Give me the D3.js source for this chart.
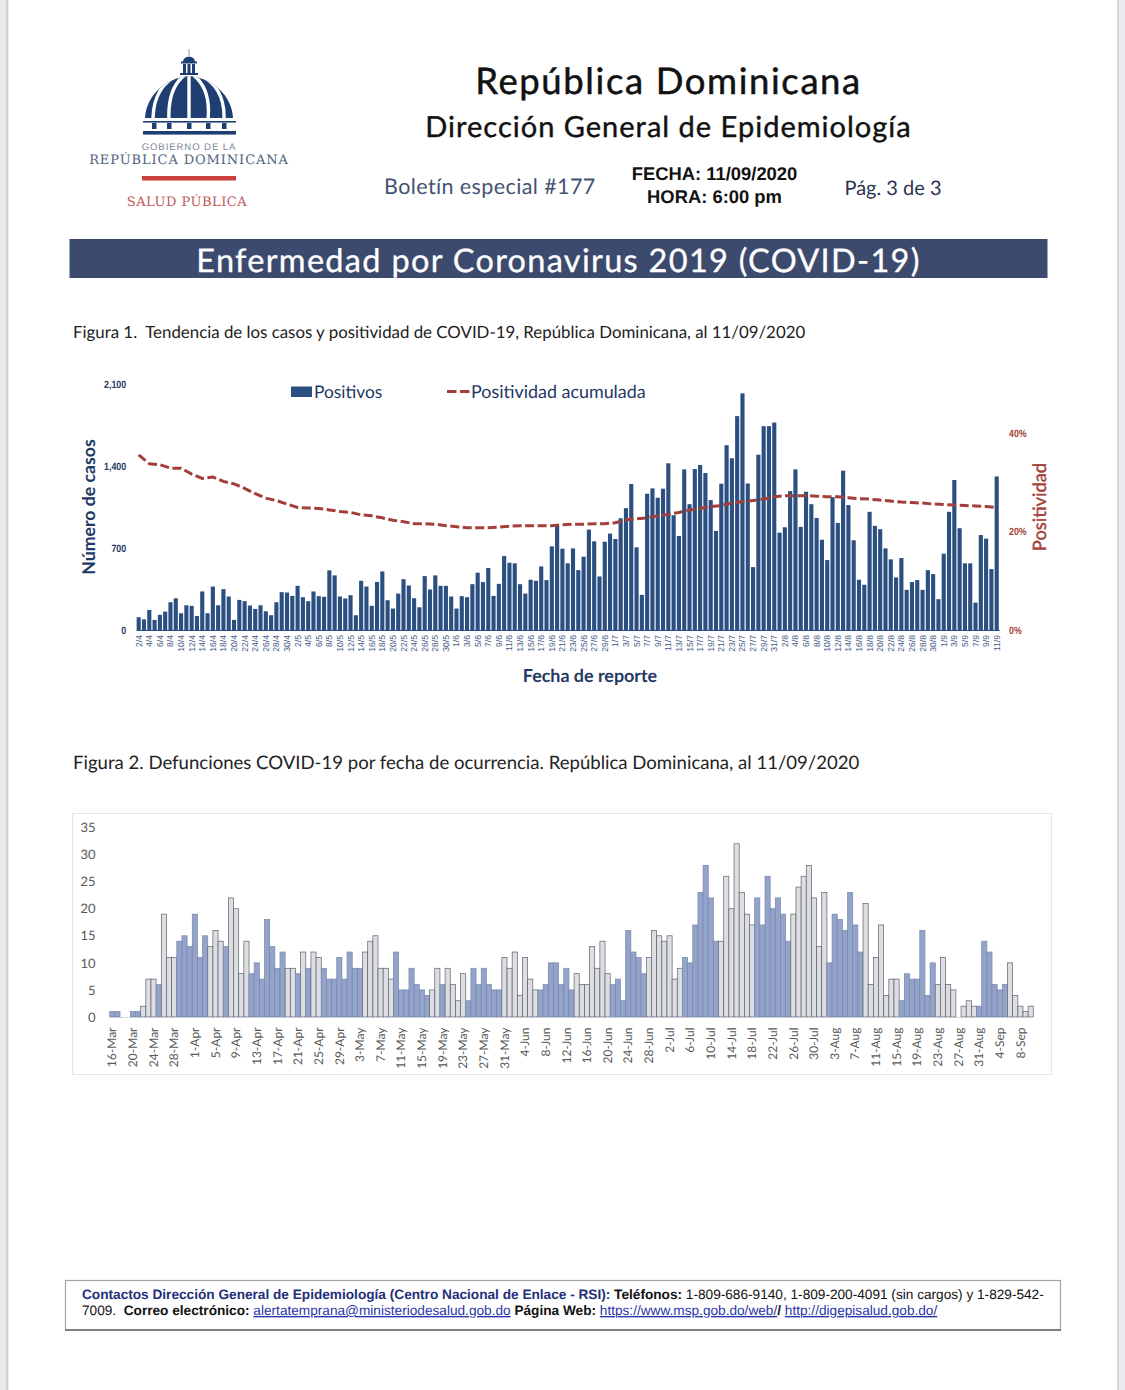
<!DOCTYPE html>
<html lang="es">
<head>
<meta charset="utf-8">
<script src="https://cdn.jsdelivr.net/npm/d3@7"></script>
<style>
html,body{margin:0;padding:0;background:#fff;}
svg{display:block;}
text{text-rendering:geometricPrecision;}
</style>
</head>
<body>
<svg id="page" width="1125" height="1390" viewBox="0 0 1125 1390"></svg>
<script>
// ---------- Figura 1: one value per day, 2/4 to 11/9 ----------
const positivosAbril = [109,91,171,86,129,157,237,271,143,211,206,120,329,143,371,211,349,286,86,257,246,209,180,211,160,126,237,323,320];
const positivosMayo = [291,377,280,246,329,289,283,509,466,286,269,297,126,420,371,206,411,500,254,183,311,434,380,271,194,460,346,466,377,377,286];
const positivosJunio = [183,289,280,391,489,409,529,291,394,631,574,569,391,311,429,420,543,426,714,900,694,569,697,511,626,857,757,457,754,823];
const positivosJulio = [777,954,1040,1246,706,300,1163,1209,1129,1206,1423,980,803,1371,1074,1374,1409,1340,1109,846,1249,1577,1466,1826,2020,1251,537,1497,1740,1740,1771];
const positivosAgosto = [831,877,1186,1371,880,1180,1074,957,771,597,1134,914,1360,1066,766,429,386,1009,889,860,697,603,449,614,343,409,426,343,511,477,263];
const positivosSeptiembre = [651,1009,1280,869,569,569,234,811,780,520,1311];
// accumulated positivity (%), read at every labelled date (every second day)
const positividadAcumulada = [35.6,33.8,33.6,32.9,32.9,31.7,30.8,31.1,30.2,29.7,28.8,27.7,26.8,26.3,25.6,
  24.9,24.8,24.7,24.4,24.1,23.9,23.4,23.2,22.8,22.3,22.0,21.6,21.6,21.5,21.2,
  21.0,20.8,20.8,20.8,20.9,21.1,21.2,21.2,21.2,21.2,21.4,21.5,21.5,21.6,21.6,
  21.8,22.4,22.6,22.8,23.2,23.5,23.9,24.4,24.7,25.1,25.3,25.8,26.1,26.3,26.6,27.1,
  27.3,27.3,27.3,27.2,27.1,27.1,26.9,26.7,26.6,26.4,26.2,26.0,25.9,25.8,25.6,
  25.5,25.4,25.3,25.2,25.1,24.9];
const etiquetasCasos = ["2/4","4/4","6/4","8/4","10/4","12/4","14/4","16/4","18/4","20/4","22/4","24/4","26/4","28/4","30/4",
  "2/5","4/5","6/5","8/5","10/5","12/5","14/5","16/5","18/5","20/5","22/5","24/5","26/5","28/5","30/5",
  "1/6","3/6","5/6","7/6","9/6","11/6","13/6","15/6","17/6","19/6","21/6","23/6","25/6","27/6","29/6",
  "1/7","3/7","5/7","7/7","9/7","11/7","13/7","15/7","17/7","19/7","21/7","23/7","25/7","27/7","29/7","31/7",
  "2/8","4/8","6/8","8/8","10/8","12/8","14/8","16/8","18/8","20/8","22/8","24/8","26/8","28/8","30/8",
  "1/9","3/9","5/9","7/9","9/9","11/9"];
const ticksCasos = [0,700,1400,2100];
const ticksPositividad = [0,20,40];

// ---------- Figura 2: one value per day, 16-Mar to 10-Sep ----------
const defuncionesMarzo = [1,1,0,0,1,1,2,7,7,6,19,11,11,14,15,13];
const defuncionesAbril = [19,11,15,13,16,14,13,22,20,8,14,8,10,7,18,13,9,12,9,9,8,12,9,12,11,9,7,7,11,7];
const defuncionesMayo = [12,9,9,12,14,15,9,9,7,12,5,5,9,6,5,4,5,9,6,9,6,3,8,3,9,6,9,6,5,5,11];
const defuncionesJunio = [9,12,4,11,7,5,5,6,10,10,6,9,5,8,6,6,13,9,14,8,6,7,3,16,12,11,8,11,16,15];
const defuncionesJulio = [14,15,7,9,11,10,17,23,28,22,14,14,26,20,32,23,19,17,22,17,26,20,22,19,14,19,24,26,28,22,13];
const defuncionesAgosto = [23,10,19,18,16,23,17,12,21,6,11,17,4,7,7,3,8,7,7,16,4,10,6,11,6,5,0,2,3,2,2];
const defuncionesSeptiembre = [14,12,6,5,6,10,4,2,1,2];
// group of each bar: "a" shaded, "b" pale
const grupoMarzo = "a a a a a a b b b a b b b a a a".split(" ");
const grupoAbril = "a a a b b b a b b b b a a a a a a a b b a b a b b a a a a a".split(" ");
const grupoMayo = "a a a b b b b b b a a a a a a a b b a b b b b a a a a a a a b".split(" ");
const grupoJunio = "b b b b b b a a a a a a a b b b b b b b a a a a a a a b b b".split(" ");
const grupoJulio = "b b b b a a a a a a a b b b b b b b a a a a a a a b b b b b b".split(" ");
const grupoAgosto = "b a a a a a a a b b b b b b b a a a a a a a b b b b b b b b a".split(" ");
const grupoSeptiembre = "a a a a a b b b b b".split(" ");
const etiquetasDefunciones = ["16-Mar","20-Mar","24-Mar","28-Mar","1-Apr","5-Apr","9-Apr","13-Apr","17-Apr","21-Apr","25-Apr","29-Apr",
  "3-May","7-May","11-May","15-May","19-May","23-May","27-May","31-May","4-Jun","8-Jun","12-Jun","16-Jun","20-Jun","24-Jun","28-Jun",
  "2-Jul","6-Jul","10-Jul","14-Jul","18-Jul","22-Jul","26-Jul","30-Jul","3-Aug","7-Aug","11-Aug","15-Aug","19-Aug","23-Aug","27-Aug","31-Aug",
  "4-Sep","8-Sep"];
const ticksDefunciones = [0,5,10,15,20,25,30,35];

// ---------- assembled series ----------
const positivos = [].concat(positivosAbril,positivosMayo,positivosJunio,positivosJulio,positivosAgosto,positivosSeptiembre);
const defunciones = [].concat(defuncionesMarzo,defuncionesAbril,defuncionesMayo,defuncionesJunio,defuncionesJulio,defuncionesAgosto,defuncionesSeptiembre);
const grupos = [].concat(grupoMarzo,grupoAbril,grupoMayo,grupoJunio,grupoJulio,grupoAgosto,grupoSeptiembre);

const HUMAN = "Lato, 'Open Sans', sans-serif";
const ARIAL = "'Liberation Sans', Arial, sans-serif";
const NAVY = "#1f3864", BAR = "#2b4f80", RED = "#a33f3a";

const svg = d3.select("#page");
svg.append("rect").attr("width",1125).attr("height",1390).attr("fill","#fff");

// page edges of the scanned sheet
[[0,6,"#e9e9ee"],[6,2,"#d2d2d6"],[8,1,"#f0f0f0"],[1119,6,"#e9e9ee"],[1117,2,"#d6d6da"]].forEach(r=>
  svg.append("rect").attr("x",r[0]).attr("y",0).attr("width",r[1]).attr("height",1390).attr("fill",r[2]));

function label(txt,x,y,size,opt={}){
  const t = svg.append("text").attr("x",x).attr("y",y).text(txt)
    .attr("font-family",opt.family||HUMAN).attr("font-size",size)
    .attr("font-weight",opt.weight||400).attr("fill",opt.fill||"#111")
    .attr("text-anchor",opt.anchor||"start")
    .attr("letter-spacing",opt.spacing||null)
    .attr("transform",opt.rotate?`rotate(${opt.rotate} ${x} ${y})`:null);
  if(opt.embolden) t.attr("stroke",opt.fill||"#111").attr("stroke-width",opt.embolden);
  return t;
}

// ---------- logo ----------
const logo = svg.append("g");
const LOGO = "#1f3f73";
const defs = svg.append("defs");
defs.append("clipPath").attr("id","dome").append("path").attr("d","M145,118 C146,96 165,78 189,76 C213,78 232,96 233,118 Z");
const dome = logo.append("g").attr("clip-path","url(#dome)");
dome.append("rect").attr("x",140).attr("y",70).attr("width",100).attr("height",50).attr("fill",LOGO);
["M189,70 L189,120","M186,74 C172,84 168,100 169,120","M192,74 C206,84 210,100 208,120",
 "M182,74 C162,80 153,98 153,120","M196,74 C216,80 225,98 224,120"].forEach(d=>
  dome.append("path").attr("d",d).attr("fill","none").attr("stroke","#fff").attr("stroke-width",3.4));
logo.append("path").attr("d","M183,62 C183,55 195,55 195,62 Z").attr("fill",LOGO);
logo.append("rect").attr("x",188.5).attr("y",49).attr("width",1).attr("height",7).attr("fill","#8da0bd");
logo.append("rect").attr("x",181).attr("y",61.5).attr("width",16).attr("height",2).attr("fill",LOGO);
[183,187.5,192].forEach(x=>logo.append("rect").attr("x",x).attr("y",64).attr("width",3).attr("height",9).attr("fill",LOGO));
logo.append("rect").attr("x",180).attr("y",73).attr("width",18).attr("height",2).attr("fill",LOGO);
logo.append("rect").attr("x",143).attr("y",121).attr("width",93).attr("height",1.6).attr("fill",LOGO);
[154,169,189,208,224].forEach(x=>logo.append("rect").attr("x",x-2).attr("y",123).attr("width",4.5).attr("height",6).attr("fill",LOGO));
logo.append("rect").attr("x",143).attr("y",131).attr("width",93).attr("height",3.6).attr("fill",LOGO);
label("GOBIERNO DE LA",189,150,9.6,{family:ARIAL,anchor:"middle",fill:"#7c8798",spacing:"0.9px"});
label("REPÚBLICA DOMINICANA",189,164,13,{family:"'DejaVu Serif', serif",anchor:"middle",fill:"#51647f",spacing:"0.9px"});
logo.append("rect").attr("x",142).attr("y",176).attr("width",94).attr("height",4.5).attr("fill","#c9403c");
label("SALUD PÚBLICA",187,206,13,{family:"'DejaVu Serif', serif",anchor:"middle",fill:"#bf5a5c",spacing:"0.5px"});

// ---------- header ----------
label("República Dominicana",668.5,94,36.5,{anchor:"middle",spacing:"1.6px",embolden:0.5});
label("Dirección General de Epidemiología",668.5,137,29,{anchor:"middle",spacing:"1px",embolden:0.4});
label("Boletín especial #177",384,194,21.5,{fill:"#445274",spacing:"0.4px"});
label("FECHA: 11/09/2020",714.5,180,18.4,{family:ARIAL,weight:700,anchor:"middle"});
label("HORA: 6:00 pm",714.5,203,18.4,{family:ARIAL,weight:700,anchor:"middle"});
label("Pág. 3 de 3",893,195,20,{anchor:"middle",fill:"#2b3450"});
svg.append("rect").attr("x",69.5).attr("y",239).attr("width",978).attr("height",39).attr("fill","#3c4a6e");
label("Enfermedad por Coronavirus 2019 (COVID-19)",558.5,272,32.5,{anchor:"middle",fill:"#fff",spacing:"1.3px",embolden:0.3});

// ---------- Figura 1 ----------
label("Figura 1.  Tendencia de los casos y positividad de COVID-19, República Dominicana, al 11/09/2020",73,338,16.85,{fill:"#222"}).attr("xml:space","preserve");

const x1 = d3.scaleBand().domain(d3.range(positivos.length)).range([136.05,999.35]).paddingInner(0.22).paddingOuter(0.11);
const y1 = d3.scaleLinear().domain([0,2100]).range([630,384]);
const yPct = d3.scaleLinear().domain([0,50]).range([630,384]);

svg.append("g").selectAll("rect").data(positivos).join("rect")
  .attr("x",(d,i)=>x1(i)).attr("width",x1.bandwidth())
  .attr("y",d=>y1(d)).attr("height",d=>y1(0)-y1(d)).attr("fill",BAR);

const axisCasos = svg.append("g").attr("transform","translate(0,630)")
  .call(d3.axisBottom(x1).tickValues(etiquetasCasos.map((d,i)=>i*2)).tickFormat(i=>etiquetasCasos[i/2]).tickSize(0));
axisCasos.select(".domain").attr("stroke",BAR).attr("stroke-width",1.2);
axisCasos.selectAll("text").attr("font-family",ARIAL).attr("font-size",8.6).attr("fill","#3f5a86")
  .attr("text-anchor","end").attr("dy",0).attr("transform","translate(3,5) rotate(-90)").attr("y",0).attr("x",0);

const axisL = svg.append("g").attr("transform","translate(127,0)")
  .call(d3.axisLeft(y1).tickValues(ticksCasos).tickFormat(d3.format(",")).tickSize(0));
axisL.select(".domain").remove();
axisL.selectAll("text").attr("font-family",ARIAL).attr("font-weight",700).attr("font-size",10.5).attr("fill",NAVY)
  .attr("x",-1).attr("transform","scale(.84,1)");

const axisR = svg.append("g").attr("transform","translate(1009,0)")
  .call(d3.axisRight(yPct).tickValues(ticksPositividad).tickFormat(d=>d+"%").tickSize(0));
axisR.select(".domain").remove();
axisR.selectAll("text").attr("font-family",ARIAL).attr("font-weight",700).attr("font-size",10.5).attr("fill",RED)
  .attr("x",0).attr("transform","scale(.84,1)");

const linea = d3.line().x((d,i)=>x1(i*2)+x1.bandwidth()/2).y(d=>yPct(d));
svg.append("path").datum(positividadAcumulada).attr("d",linea).attr("fill","none")
  .attr("stroke",RED).attr("stroke-width",3).attr("stroke-dasharray","9,3.5");

svg.append("rect").attr("x",291).attr("y",386.5).attr("width",21).attr("height",10.5).attr("fill",BAR);
label("Positivos",314,397.5,17.4,{fill:NAVY});
svg.append("line").attr("x1",447).attr("x2",470).attr("y1",391.5).attr("y2",391.5).attr("stroke",RED)
  .attr("stroke-width",3).attr("stroke-dasharray","9.5,3.5");
label("Positividad acumulada",471,397.5,17.9,{fill:NAVY});
label("Número de casos",95,507,17.7,{rotate:-90,anchor:"middle",fill:NAVY,weight:700});
label("Positividad",1046,507,18.4,{rotate:-90,anchor:"middle",fill:RED,embolden:0.4});
label("Fecha de reporte",590,682,17.9,{anchor:"middle",fill:NAVY,weight:700});

// ---------- Figura 2 ----------
label("Figura 2. Defunciones COVID-19 por fecha de ocurrencia. República Dominicana, al 11/09/2020",73,769,18.57,{fill:"#222"});
svg.append("rect").attr("x",72.5).attr("y",813.5).attr("width",979).attr("height",261).attr("fill","#fff").attr("stroke","#e6e6e6");

const x2 = d3.scaleBand().domain(d3.range(defunciones.length)).range([109.72,1033.3]).padding(0);
const y2 = d3.scaleLinear().domain([0,35]).range([1017,827.5]);
const colorGrupo = d3.scaleOrdinal().domain(["a","b"]).range(["#93a3ca","#dcdee2"]);
const bordeGrupo = d3.scaleOrdinal().domain(["a","b"]).range(["#7686ae","#5f626b"]);

svg.append("g").selectAll("rect").data(defunciones).join("rect")
  .attr("x",(d,i)=>x2(i)).attr("width",x2.bandwidth())
  .attr("y",d=>y2(d)).attr("height",d=>y2(0)-y2(d))
  .attr("fill",(d,i)=>colorGrupo(grupos[i])).attr("stroke",(d,i)=>bordeGrupo(grupos[i])).attr("stroke-width",0.7);

const axisD = svg.append("g").attr("transform","translate(0,1017)")
  .call(d3.axisBottom(x2).tickValues(etiquetasDefunciones.map((d,i)=>i*4)).tickFormat(i=>etiquetasDefunciones[i/4]).tickSize(0));
axisD.select(".domain").attr("stroke","#c9cdd6").attr("stroke-width",0.8);
axisD.selectAll("text").attr("font-family",HUMAN).attr("font-size",12).attr("fill","#595959")
  .attr("text-anchor","end").attr("dy",0).attr("y",0).attr("x",0).attr("transform","translate(4.2,10.5) rotate(-90)");

const axisY2 = svg.append("g").attr("transform","translate(96,0)")
  .call(d3.axisLeft(y2).tickValues(ticksDefunciones).tickSize(0));
axisY2.select(".domain").remove();
axisY2.selectAll("text").attr("font-family",HUMAN).attr("font-size",13).attr("fill","#595959").attr("x",-0.5);

// ---------- contact box ----------
svg.append("rect").attr("x",65.5).attr("y",1280.5).attr("width",995).attr("height",49.5).attr("fill","#fff").attr("stroke","#a2a2a2").attr("stroke-width",1.2);
svg.append("line").attr("x1",65).attr("x2",1061).attr("y1",1330).attr("y2",1330).attr("stroke","#6a6a6a").attr("stroke-width",1.3);
function rich(y,parts){
  const t = svg.append("text").attr("x",82).attr("y",y).attr("font-family",ARIAL).attr("font-size",13.65).attr("xml:space","preserve");
  parts.forEach(p=>t.append("tspan").text(p[0]).attr("font-weight",p[1]?700:400).attr("fill",p[2]||"#111")
    .attr("text-decoration",p[3]?"underline":null));
}
rich(1298.5,[["Contactos Dirección General de Epidemiología (Centro Nacional de Enlace - RSI): ",1,"#1f2f7a"],["Teléfonos: ",1],["1-809-686-9140, 1-809-200-4091 (sin cargos) y 1-829-542-",0]]);
rich(1315,[["7009.  ",0],["Correo electrónico: ",1],["alertatemprana@ministeriodesalud.gob.do",0,"#2a35a8",1],[" Página Web: ",1],["https://www.msp.gob.do/web/",0,"#2a35a8",1],["/ ",1],["http://digepisalud.gob.do/",0,"#2a35a8",1]]);
</script>
</body>
</html>
